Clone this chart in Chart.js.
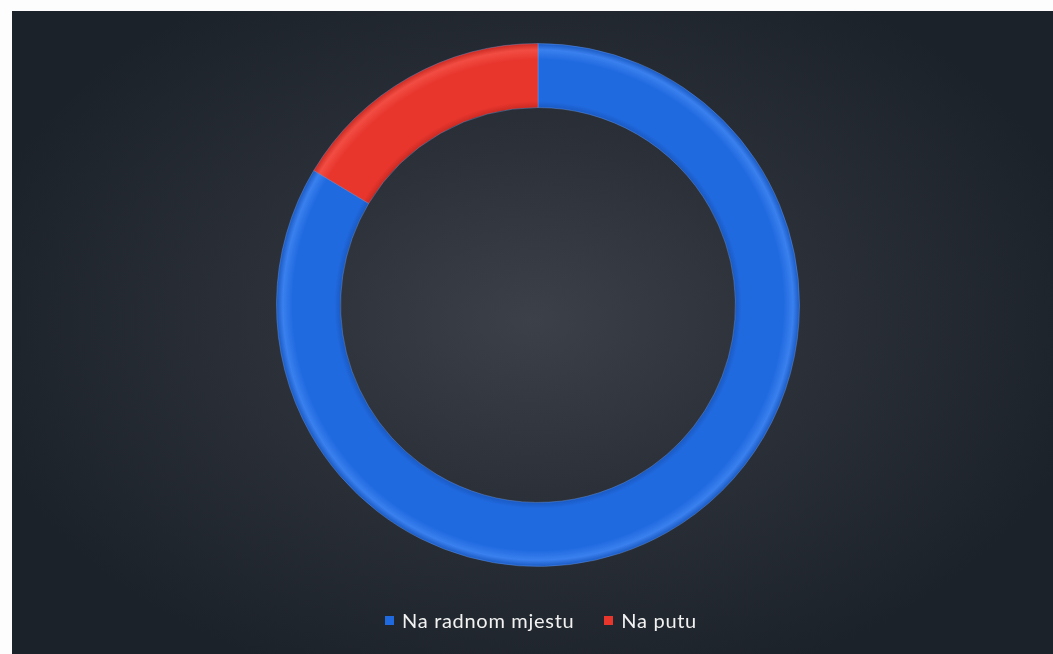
<!DOCTYPE html>
<html>
<head>
<meta charset="utf-8">
<script src="https://cdn.jsdelivr.net/npm/chart.js@4"></script>
<style>
    html, body { margin: 0; padding: 0; background: #fdfdfd; }
    body { width: 1053px; height: 654px; position: relative; overflow: hidden; }
    .panel {
        position: absolute; left: 12px; top: 11px; width: 1041px; height: 643px;
        background: radial-gradient(ellipse 55% 60% at 50% 48%, #3b4049 0%, #2c3139 45%, #1c2229 100%);
    }
    .chart-box { position: absolute; left: 0; top: 0; width: 1041px; height: 600px; }
    .legend {
        position: absolute; top: 597px; left: 0; width: 1058px;
        display: flex; justify-content: center; gap: 30px;
        font-family: Lato, "Open Sans", sans-serif; font-size: 20px; letter-spacing: 0.7px; color: #f2f2f2;
    }
    .legend-item { display: flex; align-items: center; }
    .legend-item i { display: inline-block; width: 9px; height: 9px; margin-right: 8px; }
</style>
</head>
<body>
<div class="panel">
    <div class="chart-box"><canvas id="donut"></canvas></div>
    <div class="legend" id="legend"></div>
</div>
<script>
// Chart data
const categories = ['Na radnom mjestu', 'Na putu'];
const values = [83.6, 16.4];
const sliceColors = ['#206ae0', '#e8362d'];
const lightColors = ['#3a80ee', '#f24d43'];
const darkColors = ['#1a5ac4', '#cc2a22'];

// Ring fill with a soft bevel across its width
function sliceFill(ctx) {
    const chart = ctx.chart;
    const meta = chart.getDatasetMeta(0);
    const el = meta.data[ctx.dataIndex];
    if (!el || !el.outerRadius) return sliceColors[ctx.dataIndex];
    const g = chart.ctx.createRadialGradient(el.x, el.y, el.innerRadius, el.x, el.y, el.outerRadius);
    g.addColorStop(0, darkColors[ctx.dataIndex]);
    g.addColorStop(0.1, sliceColors[ctx.dataIndex]);
    g.addColorStop(0.75, sliceColors[ctx.dataIndex]);
    g.addColorStop(0.9, lightColors[ctx.dataIndex]);
    g.addColorStop(1, darkColors[ctx.dataIndex]);
    return g;
}

const chart = new Chart(document.getElementById('donut'), {
    type: 'doughnut',
    data: {
        labels: categories,
        datasets: [{
            data: values,
            backgroundColor: sliceFill,
            borderColor: 'rgba(120,170,245,0.35)',
            borderWidth: 1
        }]
    },
    options: {
        responsive: true,
        maintainAspectRatio: false,
        animation: false,
        cutout: '75.5%',
        layout: { padding: { top: 32, bottom: 44, left: 11, right: 0 } },
        plugins: {
            legend: { display: false },
            tooltip: { enabled: false }
        }
    }
});
// second pass so gradients use the laid-out arcs
chart.update();

// Legend
document.getElementById('legend').innerHTML = categories.map((name, i) =>
    `<span class="legend-item"><i style="background:${sliceColors[i]}"></i>${name}</span>`
).join('');
</script>
</body>
</html>
